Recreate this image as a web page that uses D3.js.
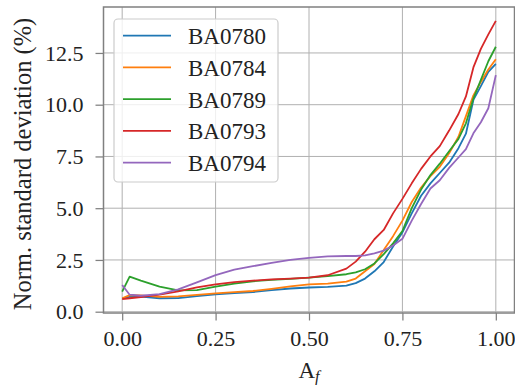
<!DOCTYPE html>
<html>
<head>
<meta charset="utf-8">
<script src="https://cdn.jsdelivr.net/npm/d3@7"></script>
<style>
  body { margin: 0; background: #fff; }
  svg text { font-family: "Liberation Serif", "DejaVu Serif", serif; fill: #222; }
</style>
</head>
<body>
<script>
// data
var af = [0, 0.02, 0.05, 0.1, 0.15, 0.2, 0.25, 0.3, 0.35, 0.4, 0.45, 0.5, 0.55, 0.6,
          0.625, 0.65, 0.675, 0.7, 0.725, 0.75, 0.775, 0.8, 0.825, 0.85, 0.875, 0.9,
          0.92, 0.94, 0.96, 0.98, 1.0];

var BA0780 = [0.64, 0.72, 0.73, 0.65, 0.66, 0.75, 0.84, 0.9, 0.95, 1.04, 1.12, 1.17, 1.2, 1.26,
              1.38, 1.6, 1.95, 2.4, 3.15, 3.83, 4.75, 5.6, 6.2, 6.7, 7.2, 7.9,
              8.6, 10.23, 10.9, 11.59, 11.97];
var BA0784 = [0.65, 0.8, 0.79, 0.72, 0.74, 0.81, 0.89, 0.95, 1.0, 1.1, 1.22, 1.32, 1.36, 1.45,
              1.6, 1.95, 2.3, 2.98, 3.65, 4.4, 5.3, 6.0, 6.55, 7.0, 7.65, 8.45,
              9.45, 10.45, 11.1, 11.7, 12.2];
var BA0789 = [0.97, 1.69, 1.5, 1.21, 1.03, 1.04, 1.21, 1.36, 1.47, 1.54, 1.59, 1.65, 1.72, 1.81,
              1.9, 2.05, 2.33, 2.78, 3.3, 3.9, 5.0, 5.9, 6.6, 7.15, 7.75, 8.35,
              9.1, 10.3, 11.2, 12.1, 12.8];
var BA0793 = [0.61, 0.65, 0.71, 0.82, 0.98, 1.17, 1.32, 1.43, 1.5, 1.56, 1.6, 1.65, 1.76, 2.08,
              2.42, 2.9, 3.5, 3.95, 4.75, 5.45, 6.2, 6.9, 7.5, 8.0, 8.75, 9.55,
              10.4, 11.8, 12.7, 13.4, 14.05];
var BA0794 = [1.29, 0.82, 0.77, 0.85, 1.08, 1.42, 1.77, 2.03, 2.2, 2.36, 2.5, 2.6, 2.67, 2.69,
              2.69, 2.72, 2.82, 2.95, 3.2, 3.52, 4.4, 5.2, 5.95, 6.35, 6.95, 7.45,
              7.85, 8.62, 9.15, 9.83, 11.43];

var names = ["BA0780", "BA0784", "BA0789", "BA0793", "BA0794"];
var values = [BA0780, BA0784, BA0789, BA0793, BA0794];
var colors = ["#1f77b4", "#ff7f0e", "#2ca02c", "#d62728", "#9467bd"];

var xTicks = [0, 0.25, 0.5, 0.75, 1.0];
var yTicks = [0, 2.5, 5, 7.5, 10, 12.5];

var width = 515, height = 385;
var plot = {left: 103.5, right: 514.5, top: 7, bottom: 313};

// scales (5% margins like matplotlib)
var x = d3.scaleLinear()
    .domain([-0.05, 1.05])
    .range([plot.left, plot.right]);
var y = d3.scaleLinear()
    .domain([-0.063, 14.72])
    .range([plot.bottom, plot.top]);

var svg = d3.select("body")
    .append("svg")
        .attr("width", width)
        .attr("height", height);

// grid
svg.append("g")
    .selectAll("line")
    .data(xTicks)
  .enter().append("line")
    .attr("x1", function(d) { return x(d); })
    .attr("x2", function(d) { return x(d); })
    .attr("y1", plot.top)
    .attr("y2", plot.bottom)
    .attr("stroke", "#b0b0b0")
    .attr("stroke-width", 1);
svg.append("g")
    .selectAll("line")
    .data(yTicks)
  .enter().append("line")
    .attr("x1", plot.left)
    .attr("x2", plot.right)
    .attr("y1", function(d) { return y(d); })
    .attr("y2", function(d) { return y(d); })
    .attr("stroke", "#b0b0b0")
    .attr("stroke-width", 1);

// axes
var xAxis = d3.axisBottom(x)
    .tickValues(xTicks)
    .tickFormat(d3.format(".2f"))
    .tickSize(7.5)
    .tickPadding(10);
var yAxis = d3.axisLeft(y)
    .tickValues(yTicks)
    .tickFormat(d3.format(".1f"))
    .tickSize(8)
    .tickPadding(12);

var gx = svg.append("g")
    .attr("transform", "translate(0," + plot.bottom + ")")
    .call(xAxis);
var gy = svg.append("g")
    .attr("transform", "translate(" + plot.left + ",0)")
    .call(yAxis);

[gx, gy].forEach(function(g) {
    g.select(".domain").remove();
    g.selectAll(".tick line").attr("stroke", "#808080").attr("stroke-width", 1.25);
    g.selectAll(".tick text")
        .attr("fill", "#222")
        .style("font-family", "'Liberation Serif', serif")
        .style("font-size", "22px");
});
gy.selectAll(".tick text").attr("dy", "0.33em");

// lines
var line = d3.line()
    .x(function(d, i) { return x(af[i]); })
    .y(function(d) { return y(d); });

svg.append("g")
    .selectAll("path")
    .data(values)
  .enter().append("path")
    .attr("d", line)
    .attr("fill", "none")
    .attr("stroke", function(d, i) { return colors[i]; })
    .attr("stroke-width", 1.8)
    .attr("stroke-linejoin", "round");

// frame
svg.append("rect")
    .attr("x", plot.left)
    .attr("y", plot.top)
    .attr("width", plot.right - plot.left)
    .attr("height", plot.bottom - plot.top)
    .attr("fill", "none")
    .attr("stroke", "#808080")
    .attr("stroke-width", 1.5);

// legend
var legend = svg.append("g");
legend.append("rect")
    .attr("x", 114)
    .attr("y", 19)
    .attr("width", 164)
    .attr("height", 163)
    .attr("rx", 4)
    .attr("fill", "#fff")
    .attr("fill-opacity", 0.8)
    .attr("stroke", "#cccccc")
    .attr("stroke-width", 1.2);

var rows = legend.selectAll("g.row")
    .data(names)
  .enter().append("g")
    .attr("class", "row")
    .attr("transform", function(d, i) { return "translate(0," + (35.7 + i * 31.75) + ")"; });
rows.append("line")
    .attr("x1", 123)
    .attr("x2", 171)
    .attr("stroke", function(d, i) { return colors[i]; })
    .attr("stroke-width", 1.8);
rows.append("text")
    .attr("x", 188)
    .attr("y", 8.3)
    .style("font-size", "23px")
    .text(function(d) { return d; });

// axis labels
svg.append("text")
    .attr("transform", "translate(30.5,164) rotate(-90)")
    .attr("text-anchor", "middle")
    .style("font-size", "24.5px")
    .text("Norm. standard deviation (%)");

var xl = svg.append("text")
    .attr("x", x(0.5))
    .attr("y", 377.5)
    .attr("text-anchor", "middle")
    .style("font-size", "23px");
xl.append("tspan").text("A");
xl.append("tspan")
    .attr("dy", 4)
    .style("font-size", "16px")
    .style("font-style", "italic")
    .text("f");
</script>
</body>
</html>
